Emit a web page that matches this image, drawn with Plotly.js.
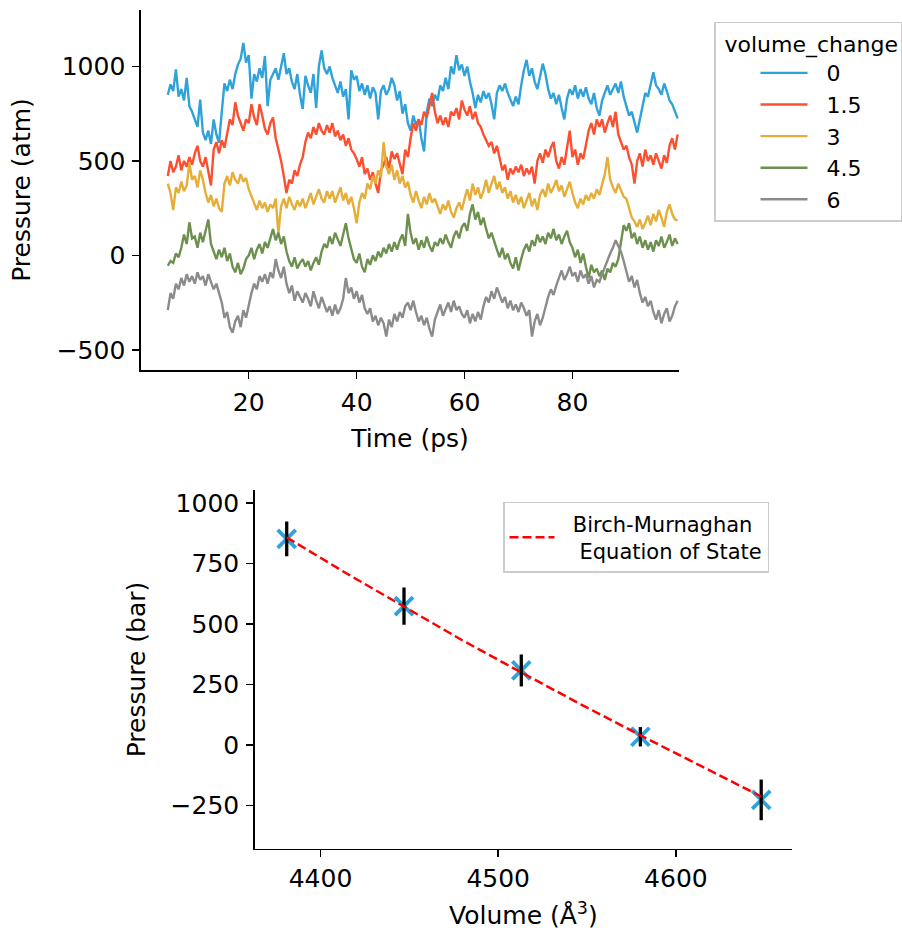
<!DOCTYPE html>
<html><head><meta charset="utf-8">
<script src="https://cdn.plot.ly/plotly-3.0.1.min.js"></script>
<style>html,body{margin:0;padding:0;background:#fff}#chart{width:902px;height:934px}</style>
</head><body><div id="chart"></div>
<script>
// ---- top panel: pressure vs time (sampled every 0.5 ps from 5 ps) ----
const timeStart = 5.0, timeStep = 0.5;
const seriesLabels = ['0', '1.5', '3', '4.5', '6'];
const seriesColors = ['#30a2da', '#fc4f30', '#e5ae38', '#6d904f', '#8b8b8b'];

const pressure_vc0 = [850, 905, 870, 985, 840, 880, 820, 940, 790, 760,
720, 680, 825, 650, 610, 660, 590, 720, 640, 595,
760, 910, 870, 930, 880, 960, 1010, 1040, 1125, 1020,
1060, 830, 960, 920, 990, 940, 1055, 790, 930, 960,
990, 930, 1010, 1070, 960, 990, 920, 880, 960, 850,
775, 950, 900, 860, 960, 780, 1000, 1085, 990, 960,
1000, 940, 900, 860, 920, 840, 880, 720, 980, 930,
950, 870, 910, 850, 900, 830, 890, 860, 720, 870,
900, 850, 880, 940, 900, 820, 870, 750, 800, 700,
660, 740, 690, 720, 620, 550, 760, 830, 790, 850,
820, 900, 870, 940, 880, 1000, 960, 1060, 980, 1010,
950, 1000, 920, 860, 780, 850, 810, 870, 830, 860,
800, 720, 860, 900, 870, 910, 860, 820, 790, 840,
800, 900, 980, 1035, 950, 990, 920, 880, 940, 1015,
960, 880, 830, 860, 800, 850, 780, 720, 830, 880,
850, 900, 830, 880, 840, 890, 830, 800, 860, 780,
740, 820, 860, 900, 850, 880, 910, 860, 920, 840,
790, 740, 760, 700, 650, 720, 800, 860, 840, 900,
970, 900, 880, 850, 910, 870, 820, 800, 760, 725];

const pressure_vc15 = [420, 500, 440, 470, 530, 450, 500, 470, 520, 480,
540, 580, 500, 470, 520, 450, 370, 560, 600, 540,
610, 570, 650, 720, 690, 810, 740, 700, 660, 720,
700, 800, 730, 690, 800, 740, 670, 640, 700, 730,
620, 560, 500, 420, 330, 400, 380, 450, 420, 480,
520, 600, 650, 620, 680, 640, 700, 660, 640, 690,
650, 700, 630, 660, 610, 640, 580, 620, 560, 540,
510, 470, 520, 430, 460, 400, 440, 380, 330, 450,
480, 520, 460, 550, 510, 540, 490, 430, 560, 520,
620, 700, 660, 720, 690, 760, 730, 800, 860, 760,
700, 740, 690, 730, 680, 760, 740, 780, 720, 820,
770, 740, 790, 720, 760, 700, 680, 640, 610, 580,
600, 540, 580, 520, 450, 480, 400, 460, 430, 470,
440, 480, 420, 460, 430, 470, 380, 500, 540, 490,
560, 520, 570, 600, 500, 460, 520, 480, 560, 660,
520, 560, 480, 540, 510, 590, 660, 700, 640, 720,
680, 720, 650, 700, 740, 680, 760, 640, 600, 560,
580, 520, 480, 380, 500, 540, 470, 560, 500, 530,
480, 540, 500, 460, 530, 490, 580, 620, 560, 640];

const pressure_vc3 = [380, 330, 240, 360, 330, 390, 340, 370, 490, 400,
420, 360, 450, 400, 330, 280, 320, 260, 300, 250,
230, 380, 420, 370, 440, 400, 380, 430, 390, 410,
350, 310, 270, 240, 290, 250, 280, 230, 270, 250,
300, 116, 260, 300, 250, 310, 270, 240, 290, 260,
300, 250, 290, 330, 270, 310, 350, 300, 280, 340,
300, 340, 280, 320, 360, 290, 330, 270, 310, 250,
170, 280, 330, 300, 380, 350, 420, 380, 450, 410,
600, 470, 430, 480, 400, 450, 380, 420, 360, 390,
320, 280, 340, 290, 250, 310, 270, 330, 280, 300,
260, 220, 270, 240, 290, 230, 200, 250, 280, 240,
300, 350, 290, 380, 320, 360, 300, 340, 400, 330,
380, 420, 350, 390, 330, 360, 300, 340, 280, 320,
270, 310, 250, 290, 330, 260, 300, 240, 320, 350,
310, 380, 330, 360, 400, 340, 370, 310, 350, 390,
330, 280, 250, 300, 270, 320, 290, 330, 300, 350,
320, 370, 430, 520, 400, 360, 330, 380, 340, 310,
300, 250, 200, 180, 150, 190, 140, 170, 210, 160,
220, 180, 240, 200, 150, 230, 270, 220, 190, 185];

const pressure_vc45 = [-55, -30, -40, 10, -10, 40, 110, 60, 175, 90,
100, 40, 120, 70, 130, 190, 60, 20, -20, 30,
-10, 40, -30, 10, -60, -90, -40, -100, -70, -20,
0, 40, -20, 30, 60, 10, 70, 40, 90, 140,
80, 120, 60, 100, 20, -30, -60, -10, -70, -40,
-20, -60, -30, -80, -40, -10, -50, 20, 60, 40,
100, 60, 120, 80, 50, 110, 170, 90, 30, -20,
-40, 10, -60, -90, -20, -50, 0, -30, 20, -10,
40, 10, 60, 20, 70, 30, 80, 110, 50, 220,
120, 60, 90, 30, 80, 40, 100, 50, 20, 70,
50, 90, 60, 110, 70, 40, 100, 130, 90, 150,
170, 130, 220, 270, 190, 230, 160, 200, 140, 90,
120, 70, 30, -10, 40, -20, 10, -40, -70, -10,
-80, -20, 30, 60, 20, 80, 50, 110, 70, 100,
60, 120, 90, 140, 80, 110, 60, 100, 130, 70,
40, -10, 30, -40, 10, -60, -120, -50, -90, -70,
-110, -80, -130, -70, -90, -40, -60, -20, 60, 160,
130, 170, 90, 120, 60, 100, 40, 80, 30, 70,
20, 80, 50, 100, 40, 70, 110, 50, 90, 60];

const pressure_vc6 = [-290, -200, -230, -150, -180, -120, -160, -100, -140, -110,
-150, -90, -130, -110, -160, -100, -140, -180, -150, -200,
-250, -330, -300, -380, -410, -350, -320, -380, -290, -330,
-260, -200, -150, -180, -110, -140, -100, -150, -90, -120,
-20, -80, -120, -60, -150, -200, -160, -240, -190, -220,
-250, -200, -230, -270, -190, -240, -280, -220, -260, -300,
-270, -320, -260, -310, -280, -230, -120, -200, -170, -230,
-190, -250, -210, -280, -310, -280, -350, -320, -370, -330,
-360, -430, -340, -380, -310, -350, -300, -330, -270, -250,
-290, -240, -300, -350, -320, -370, -330, -390, -430, -340,
-300, -260, -320, -280, -250, -300, -240, -290, -270, -310,
-330, -290, -360, -310, -350, -300, -340, -270, -220, -250,
-190, -230, -170, -210, -250, -220, -280, -240, -290, -260,
-300, -250, -280, -320, -290, -430, -350, -310, -370, -330,
-270, -220, -180, -210, -160, -120, -80, -130, -100, -60,
-110, -90, -140, -80, -120, -100, -150, -110, -170, -130,
-140, -100, -60, -20, 10, 40, 80, 50, 20, -30,
-80, -140, -110, -170, -130, -200, -250, -220, -270, -240,
-300, -340, -290, -360, -310, -280, -350, -320, -270, -240];

// ---- bottom panel: equation of state ----
const volumes = [4381, 4447, 4513, 4580, 4648];
const meanPressure = [852, 574, 308, 34, -227];
const pressureErr = [72, 77, 66, 40, 84];
const fitVolumes = [4381, 4414, 4447, 4480, 4513, 4547, 4580, 4614, 4648];
const fitPressure = [858, 712, 572, 432, 300, 166, 40, -88, -213];
const fitLabel = '\u00a0\u00a0Birch-Murnaghan<br>\u00a0\u00a0\u00a0Equation of State';

const topTicks = [20, 40, 60, 80];
const topYTicks = [-500, 0, 500, 1000];
const botXTicks = [4400, 4500, 4600];
const botYTicks = [-250, 0, 250, 500, 750, 1000];

const allSeries = [pressure_vc0, pressure_vc15, pressure_vc3, pressure_vc45, pressure_vc6];
const timePs = pressure_vc0.map((_, i) => timeStart + i * timeStep);

const traces = allSeries.map((vals, k) => ({
  type: 'scatter', mode: 'lines', x: timePs, y: vals, name: '\u00a0\u00a0' + seriesLabels[k],
  line: {color: seriesColors[k], width: 2.4}, xaxis: 'x', yaxis: 'y', legend: 'legend'
}));

traces.push({
  type: 'scatter', mode: 'markers', x: volumes, y: meanPressure, xaxis: 'x2', yaxis: 'y2',
  showlegend: false,
  marker: {symbol: 'x-thin', size: 18, color: '#30a2da', line: {width: 3.8, color: '#30a2da'}}
});
traces.push({
  type: 'scatter', mode: 'markers', x: volumes, y: meanPressure, xaxis: 'x2', yaxis: 'y2',
  showlegend: false, marker: {size: 2, opacity: 0},
  error_y: {type: 'data', array: pressureErr, visible: true, color: '#000000', thickness: 3.3, width: 0}
});
traces.push({
  type: 'scatter', mode: 'lines', x: fitVolumes, y: fitPressure, xaxis: 'x2', yaxis: 'y2',
  name: fitLabel, legend: 'legend2',
  line: {color: '#ff0000', width: 2.5, dash: '9px,4px'}
});

const axCommon = {
  showline: true, linecolor: '#000', linewidth: 1.5, mirror: false,
  ticks: 'outside', ticklen: 7, tickwidth: 1.5, tickcolor: '#000',
  showgrid: false, zeroline: false, tickfont: {size: 25, color: '#000'}, tickmode: 'array'
};

const layout = {
  width: 902, height: 934, margin: {l: 0, r: 0, t: 0, b: 0},
  paper_bgcolor: '#ffffff', plot_bgcolor: '#ffffff',
  font: {family: 'DejaVu Sans', size: 25, color: '#000'},
  xaxis: Object.assign({}, axCommon, {domain: [0.15632, 0.75388], range: [0, 99.8], anchor: 'y',
    tickvals: topTicks, ticklabelstandoff: 2, title: {text: 'Time (ps)', font: {size: 25}, standoff: 14}}),
  yaxis: Object.assign({}, axCommon, {domain: [0.60385, 0.98929], range: [-607, 1299], anchor: 'x',
    tickvals: topYTicks, ticklabelstandoff: 2, title: {text: 'Pressure (atm)', font: {size: 25}, standoff: 19}}),
  xaxis2: Object.assign({}, axCommon, {domain: [0.28271, 0.87916], range: [4363, 4665.4], anchor: 'y2',
    tickvals: botXTicks, title: {text: 'Volume (Å<sup>3</sup>)', font: {size: 25}, standoff: 14}}),
  yaxis2: Object.assign({}, axCommon, {domain: [0.09101, 0.47537], range: [-430, 1054], anchor: 'x2',
    tickvals: botYTicks, ticklabelstandoff: 2, title: {text: 'Pressure (bar)', font: {size: 25}, standoff: 18}}),
  legend: {x: 0.79268, y: 0.97645, xanchor: 'left', yanchor: 'top', bgcolor: '#fff',
    bordercolor: '#cccccc', borderwidth: 1.5, font: {size: 22, color: '#000'},
    title: {text: '\u00a0volume_change', font: {size: 22, color: '#000'}}, itemwidth: 47, indentation: 40},
  legend2: {x: 0.55765, y: 0.46253, xanchor: 'left', yanchor: 'top', bgcolor: '#fff',
    bordercolor: '#cccccc', borderwidth: 1.5, font: {size: 21, color: '#000'}, itemwidth: 45},
  showlegend: true
};

Plotly.newPlot('chart', traces, layout, {staticPlot: true, displayModeBar: false});
</script></body></html>
